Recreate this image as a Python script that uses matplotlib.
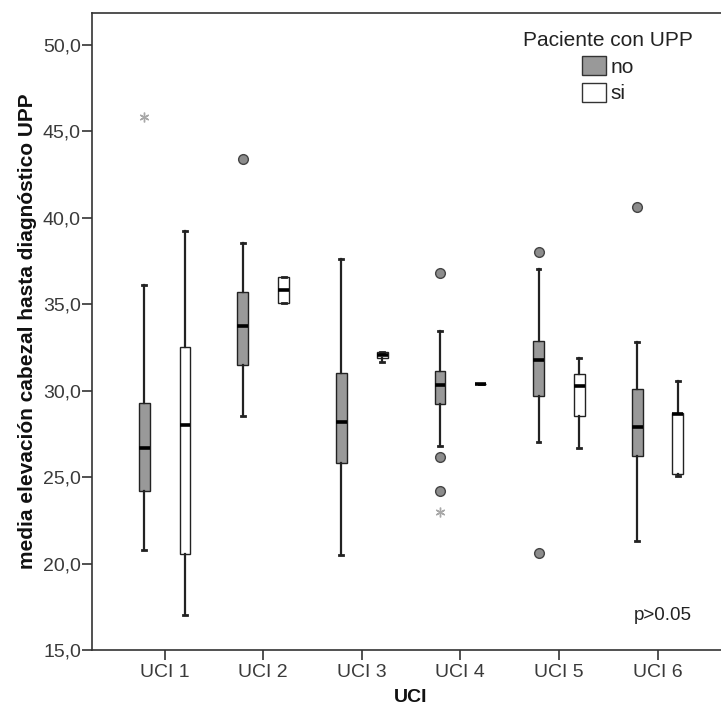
import matplotlib
matplotlib.use("Agg")
import matplotlib.pyplot as plt
from matplotlib.patches import Patch
from matplotlib.ticker import FuncFormatter

plt.rcParams['font.family'] = ['Liberation Sans', 'DejaVu Sans']

categories = ["UCI 1", "UCI 2", "UCI 3", "UCI 4", "UCI 5", "UCI 6"]
groups = ["no", "si"]

# Five-number summaries
no_whislo = [20.8, 28.5, 20.5, 26.8, 27.0, 21.3]
no_q1     = [24.2, 31.5, 25.8, 29.2, 29.7, 26.2]
no_med    = [26.65, 33.75, 28.2, 30.3, 31.75, 27.9]
no_q3     = [29.3, 35.7, 31.0, 31.1, 32.85, 30.1]
no_whishi = [36.1, 38.55, 37.6, 33.45, 37.0, 32.8]

si_whislo = [17.0, 35.05, 31.65, 30.37, 26.65, 25.05]
si_q1     = [20.55, 35.05, 31.9, 30.37, 28.5, 25.2]
si_med    = [28.0, 35.8, 32.05, 30.37, 30.25, 28.62]
si_q3     = [32.5, 36.55, 32.2, 30.37, 30.95, 28.72]
si_whishi = [39.2, 36.55, 32.2, 30.37, 31.9, 30.55]

# outliers: (category index, value)
no_out_circle_cat = [1, 3, 3, 3, 4, 4, 5]
no_out_circle_val = [43.4, 36.8, 26.15, 24.2, 38.0, 20.6, 40.6]
no_out_star_cat = [0, 3]
no_out_star_val = [45.8, 22.95]

ylabel = "media elevación cabezal hasta diagnóstico UPP"
xlabel = "UCI"
legend_title = "Paciente con UPP"
note = "p>0.05"

W, H = 721, 706
fig = plt.figure(figsize=(W / 100, H / 100), dpi=100)
ax_left, ax_right, ax_top, ax_bot = 92, 730, 12.7, 650
ax = fig.add_axes([ax_left / W, 1 - ax_bot / H, (ax_right - ax_left) / W, (ax_bot - ax_top) / H])

offset = 0.207
bw = 0.11
fill_no = "#999999"
fill_si = "#ffffff"

def make_stats(lo, q1, med, q3, hi):
    return [dict(whislo=a, q1=b, med=c, q3=d, whishi=e, fliers=[])
            for a, b, c, d, e in zip(lo, q1, med, q3, hi)]

pos = list(range(1, len(categories) + 1))
for stats, sh, fc in [
    (make_stats(no_whislo, no_q1, no_med, no_q3, no_whishi), -offset, fill_no),
    (make_stats(si_whislo, si_q1, si_med, si_q3, si_whishi), offset, fill_si),
]:
    ax.bxp(stats, positions=[p + sh for p in pos], widths=bw, capwidths=0.04,
           patch_artist=True, showfliers=False,
           boxprops=dict(facecolor=fc, edgecolor="#222222", linewidth=1.0),
           medianprops=dict(color="black", linewidth=2.6, solid_capstyle="butt"),
           whiskerprops=dict(color="#222222", linewidth=1.6),
           capprops=dict(color="#222222", linewidth=2.0),
           manage_ticks=False)

ax.plot([pos[c] - offset for c in no_out_circle_cat], no_out_circle_val, linestyle="none",
        marker="o", markersize=7, markerfacecolor="#8c8c8c", markeredgecolor="#444444",
        markeredgewidth=1.0, zorder=5)
ax.plot([pos[c] - offset for c in no_out_star_cat], no_out_star_val, linestyle="none",
        marker=(6, 2, 0), markersize=7, markerfacecolor="#a8a8a8", markeredgecolor="#a8a8a8",
        markeredgewidth=1.0, zorder=5)

px_per_cat = 98.6
ax.set_xlim(1 - (164.6 - ax_left) / px_per_cat, 6 + (ax_right - 657.5) / px_per_cat)
ax.set_ylim(15.0, 51.84)
ax.set_xticks(pos)
ax.set_xticklabels(categories)
ax.set_yticks([15, 20, 25, 30, 35, 40, 45, 50])
ax.yaxis.set_major_formatter(FuncFormatter(lambda v, p: f"{v:.1f}".replace(".", ",")))

for s in ax.spines.values():
    s.set_color("#333333")
    s.set_linewidth(1.2)
ax.tick_params(axis="both", direction="out", length=7.5, width=1.2, color="#333333",
               labelsize=14, labelcolor="#3a3a3a")
ax.tick_params(axis="x", pad=2.5)
ax.tick_params(axis="y", pad=0.5)

ax.set_xlabel(xlabel, fontsize=14, fontweight="bold", labelpad=5.5, color="#111111")
ax.set_ylabel(ylabel, fontsize=15, fontweight="bold", labelpad=4, color="#111111")

handles = [Patch(facecolor=fill_no, edgecolor="#333333", label=groups[0]),
           Patch(facecolor=fill_si, edgecolor="#333333", label=groups[1])]
leg = ax.legend(handles=handles, title=legend_title, loc="upper center",
                bbox_to_anchor=((608 - ax_left) / (ax_right - ax_left), 1 - (31 - ax_top) / (ax_bot - ax_top)),
                frameon=False, fontsize=15, title_fontsize=15,
                handlelength=1.15, handleheight=1.0, handletextpad=0.25,
                labelspacing=0.3, borderaxespad=0, borderpad=0)
leg.get_title().set_color("#222222")
for t in leg.get_texts():
    t.set_color("#222222")
leg._legend_box.align = "center"

fig.text(634 / W, 1 - 615 / H, note, fontsize=13.5, color="#222222", va="center")

fig.savefig("out.png", dpi=100)
